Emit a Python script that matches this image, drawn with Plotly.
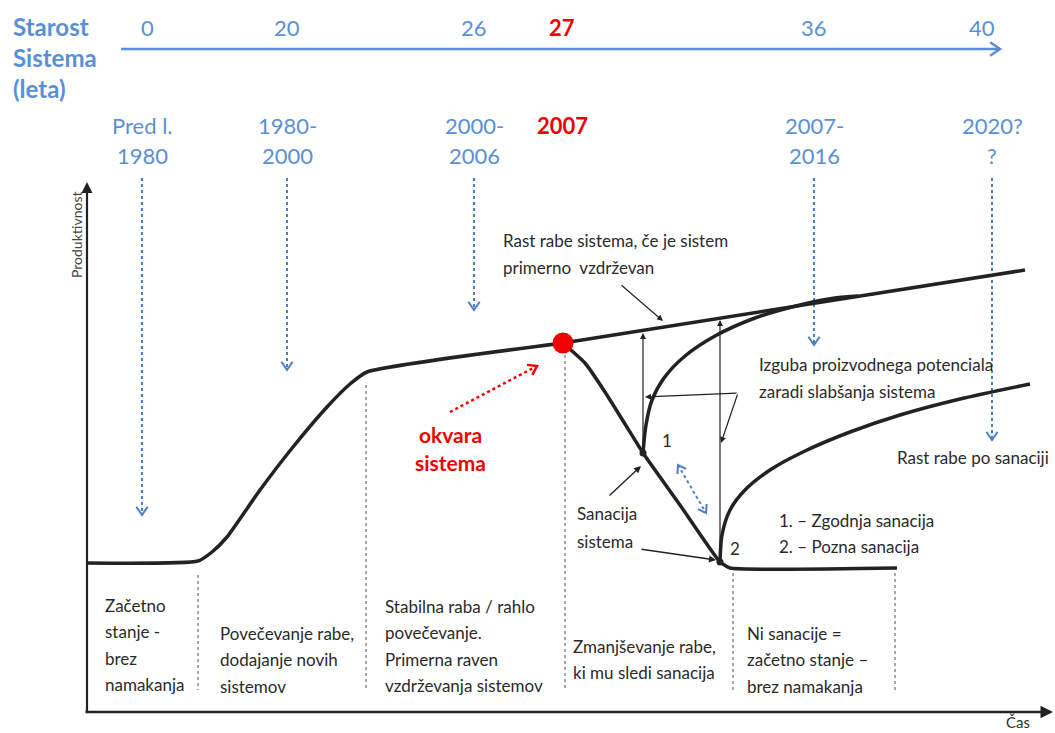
import math
import plotly.graph_objects as go

# ---------------- data (diagram space) ----------------
# top age scale
age_labels = ["0", "20", "26", "27", "36", "40"]
age_x = [147, 287, 474, 562, 814, 982]
age_red = [False, False, False, True, False, False]

# period labels
period_line1 = ["Pred l.", "1980-", "2000-", "2007", "2007-", "2020?"]
period_line2 = ["1980", "2000", "2006", "", "2016", "?"]
period_x = [142, 287, 474, 562, 814, 992]
period_red = [False, False, False, True, False, False]

# blue dotted drop arrows (x, end y)
drop_x = [142, 287, 474, 814, 992]
drop_end = [515, 370, 310, 345, 440]

# main productivity curve
base_x = [87, 198, 212, 227, 260, 293, 327, 350, 367, 563]
base_y = [563, 561, 552, 537, 490, 447, 407, 384, 372, 343]
# maintained growth line
maint_x = [563, 1025]
maint_y = [343, 270]
# decline after failure
decl_x = [563, 585, 605, 625, 643, 680, 720, 730, 897]
decl_y = [343, 363, 392, 424, 453, 505, 562, 568, 568]
# early rehabilitation (1)
rec1_x = [643, 646, 652, 664, 685, 715, 755, 800, 835, 858]
rec1_y = [453, 425, 400, 378, 356, 336, 318, 305, 298, 296]
# late rehabilitation (2)
rec2_x = [720, 722, 730, 745, 770, 805, 850, 900, 960, 1030]
rec2_y = [562, 535, 510, 490, 470, 451, 432, 415, 399, 384]

# gray dotted phase separators (x, top y)
sep_x = [198, 366, 565, 733, 895]
sep_top = [575, 385, 355, 573, 573]
sep_bottom = 690

# bottom phase descriptions
phase_x = [103, 218, 383, 571, 745]
phase_lines = [
    ["Začetno", "stanje -", "brez", "namakanja"],
    ["Povečevanje rabe,", "dodajanje novih", "sistemov"],
    ["Stabilna raba / rahlo", "povečevanje.", "Primerna raven", "vzdrževanja sistemov"],
    ["Zmanjševanje rabe,", "ki mu sledi sanacija"],
    ["Ni sanacije =", "začetno stanje –", "brez namakanja"],
]
phase_first_y = [605, 633, 606, 646, 633]
line_gap = 26.5

BLUE = "#5A8FD6"
ARROW_BLUE = "#4A7EC6"
RED = "#F00000"
DARK = "#222222"
TXT = "#2a2a2a"
BLUE_FONT = "Lato, 'Open Sans', sans-serif"
TXT_FONT = "Lato, 'Liberation Sans Narrow', sans-serif"
TS = 17

fig = go.Figure()

def line(xs, ys, color=DARK, width=3.5, dash="solid", shape="spline", smoothing=0.6):
    fig.add_trace(go.Scatter(x=xs, y=ys, mode="lines",
                             line=dict(color=color, width=width, dash=dash,
                                       shape=shape, smoothing=smoothing),
                             hoverinfo="skip"))

def chevron(x0, y0, x1, y1, color, width=2, size=10, spread=0.6):
    # open V arrowhead at (x1, y1), pointing from (x0,y0)
    ang = math.atan2(y1 - y0, x1 - x0)
    pts_x, pts_y = [], []
    for s in (spread, 0, -spread):
        if s == 0:
            pts_x.append(x1); pts_y.append(y1)
        else:
            a = ang + math.pi - s
            pts_x.append(x1 + size * math.cos(a)); pts_y.append(y1 + size * math.sin(a))
    line(pts_x, pts_y, color=color, width=width, shape="linear")

def text(x, y, s, size=TS, color=TXT, family=TXT_FONT, anchor="left", bold=False, angle=0):
    if bold:
        s = "<b>" + s + "</b>"
    fig.add_annotation(x=x, y=y, text=s, showarrow=False, xanchor=anchor, yanchor="middle",
                       font=dict(size=size, color=color, family=family), textangle=angle)

def arrow(tx, ty, hx, hy, color=DARK, width=1.3, head=2, size=1.0):
    fig.add_annotation(x=hx, y=hy, ax=tx, ay=ty, xref="x", yref="y", axref="x", ayref="y",
                       text="", showarrow=True, arrowhead=head, arrowsize=size,
                       arrowwidth=width, arrowcolor=color)

# ---------------- top timeline ----------------
line([121, 1000], [49, 49], color=BLUE, width=2.5, shape="linear")
chevron(121, 49, 1000, 49, BLUE, width=2.5, size=12, spread=0.6)
for lab, x, r in zip(age_labels, age_x, age_red):
    text(x, 27, lab, size=22, color=RED if r else BLUE, family=BLUE_FONT, anchor="center", bold=r)
for i, s in enumerate(["Starost", "Sistema", "(leta)"]):
    text(11, 26 + i * 31, s, size=24, color=BLUE, family=BLUE_FONT, bold=True)

for l1, l2, x, r in zip(period_line1, period_line2, period_x, period_red):
    text(x, 125, l1, size=22, color=RED if r else BLUE, family=BLUE_FONT, anchor="center", bold=r)
    if l2:
        text(x, 155, l2, size=22, color=BLUE, family=BLUE_FONT, anchor="center")

for x, ye in zip(drop_x, drop_end):
    line([x, x], [178, ye], color=ARROW_BLUE, width=2, dash="dot", shape="linear")
    chevron(x, 178, x, ye, ARROW_BLUE, width=2, size=10, spread=0.6)

# ---------------- gray separators ----------------
for x, yt in zip(sep_x, sep_top):
    line([x, x], [yt, sep_bottom], color="#8a8a8a", width=1.5, dash="dot", shape="linear")

# ---------------- axes ----------------
arrow(87, 713, 87, 182, width=2.2, head=2, size=1.0)
arrow(84, 712, 1053, 712, width=2.5, head=2, size=1.0)
text(76, 235, "Produktivnost", size=14, color="#444", angle=-90, anchor="center")
text(1018, 722, "Čas", size=15, color="#333", anchor="center")

# ---------------- curves ----------------
line(base_x, base_y, smoothing=0.5)
line(maint_x, maint_y, shape="linear")
line(decl_x, decl_y, smoothing=0.4)
line(rec1_x, rec1_y, smoothing=0.8)
line(rec2_x, rec2_y, smoothing=0.8)

# thin vertical arrows showing lost potential
arrow(643, 453, 643, 333, width=1.2, head=2, size=1.0)
arrow(720, 562, 720, 320, width=1.2, head=2, size=1.0)
# pointers from "Izguba" text
arrow(738, 393, 645, 397, width=1.2, head=2)
arrow(738, 393, 721, 443, width=1.2, head=2)
# "Rast rabe sistema" pointer
arrow(620, 284, 663, 321, width=1.2, head=2)
# "Sanacija sistema" pointers
arrow(608, 497, 641, 466, width=1.4, head=2)
arrow(640, 549, 716, 560, width=1.4, head=2)

# blue double dotted arrow
line([678, 706], [465, 513], color=ARROW_BLUE, width=2, dash="dot", shape="linear")
chevron(706, 513, 678, 465, ARROW_BLUE, width=2, size=9)
chevron(678, 465, 706, 513, ARROW_BLUE, width=2, size=9)

# red failure point + dotted arrow
line([450, 537], [412, 366], color=RED, width=2.5, dash="dot", shape="linear")
chevron(450, 412, 537, 366, RED, width=2.5, size=10)
fig.add_trace(go.Scatter(x=[maint_x[0]], y=[maint_y[0]], mode="markers",
                         marker=dict(size=21, color=RED), hoverinfo="skip"))
fig.add_trace(go.Scatter(x=[rec1_x[0], rec2_x[0]], y=[rec1_y[0], rec2_y[0]], mode="markers",
                         marker=dict(size=7, color=DARK), hoverinfo="skip"))

# ---------------- texts ----------------
text(501, 240, "Rast rabe sistema, če je sistem")
text(501, 267, "primerno  vzdrževan")
text(757, 364, "Izguba proizvodnega potenciala")
text(757, 391, "zaradi slabšanja sistema")
text(895, 457, "Rast rabe po sanaciji")
text(777, 520, "1. – Zgodnja sanacija")
text(777, 546, "2. – Pozna sanacija")
text(575, 513, "Sanacija")
text(575, 541, "sistema")
text(660, 440, "1")
text(728, 548, "2")
text(450, 434, "okvara", size=21, color=RED, family=BLUE_FONT, anchor="center", bold=True)
text(450, 462, "sistema", size=21, color=RED, family=BLUE_FONT, anchor="center", bold=True)

for x, y0, lines in zip(phase_x, phase_first_y, phase_lines):
    for i, s in enumerate(lines):
        text(x, y0 + i * line_gap, s)

fig.update_layout(width=1055, height=733, margin=dict(l=0, r=0, t=0, b=0),
                  xaxis=dict(range=[0, 1055], visible=False, fixedrange=True),
                  yaxis=dict(range=[733, 0], visible=False, fixedrange=True),
                  plot_bgcolor="white", paper_bgcolor="white", showlegend=False)
fig.write_html("out.html", config={"displayModeBar": False})

# remove default page margin so the figure sits at the window's top-left corner
with open("out.html", encoding="utf-8") as f:
    html = f.read()
html = html.replace("<head>", "<head><style>html,body{margin:0;padding:0;overflow:hidden;}</style>", 1)
with open("out.html", "w", encoding="utf-8") as f:
    f.write(html)
